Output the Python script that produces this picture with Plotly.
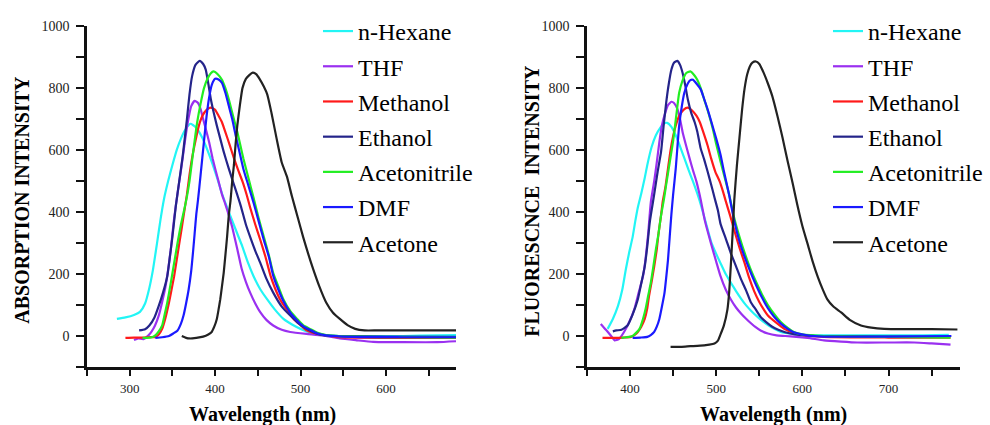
import plotly.graph_objects as go

# ---------------- DATA ----------------
solvents = ["n-Hexane", "THF", "Methanol", "Ethanol", "Acetonitrile", "DMF", "Acetone"]
colors = ["#22f5f5", "#9a30f0", "#ff1a1a", "#24248a", "#22ee22", "#1a1aff", "#222222"]

x_ticks_abs = [300, 400, 500, 600]
x_ticks_flu = [400, 500, 600, 700]
y_ticks = [0, 200, 400, 600, 800, 1000]

# Absorption panel (wavelength nm, intensity)
abs_hexane_nm = [285, 295, 305, 312, 318, 323, 327, 332, 336, 340, 345, 350, 355, 360, 365, 371, 377, 385, 391, 397, 403, 408, 414, 420, 426, 432, 438, 445, 453, 461, 470, 480, 490, 500, 513, 526, 546, 580, 620, 660, 682]
abs_hexane_int = [55, 60, 68, 78, 105, 155, 210, 300, 375, 440, 500, 552, 600, 637, 665, 685, 675, 640, 600, 555, 505, 460, 415, 372, 330, 288, 240, 193, 150, 118, 85, 55, 37, 23, 10, 4, 0, 0, 0, 2, 3]

abs_thf_nm = [305, 310, 316, 322, 328, 334, 338, 342, 345, 348, 352, 356, 360, 363, 366, 369, 372, 376, 380, 383, 386, 389, 393, 397, 401, 404, 408, 412, 416, 420, 426, 431, 436, 441, 447, 453, 460, 468, 478, 488, 507, 526, 546, 566, 585, 620, 660, 682]
abs_thf_int = [-13, -8, -10, 2, 25, 66, 110, 161, 215, 277, 380, 460, 535, 595, 655, 705, 742, 759, 752, 732, 700, 669, 625, 574, 530, 499, 457, 425, 390, 351, 280, 218, 175, 140, 105, 76, 52, 34, 20, 13, 7, 2, -8, -14, -19, -20, -20, -17]

abs_methanol_nm = [295, 305, 315, 322, 330, 334, 338, 342, 346, 349, 352, 355, 358, 361, 364, 367, 370, 373, 377, 381, 385, 390, 395, 400, 404, 408, 412, 417, 422, 427, 432, 437, 441, 447, 453, 459, 465, 470, 476, 484, 492, 500, 507, 515, 526, 546, 600, 682]
abs_methanol_int = [-6, -5, -5, -4, -3, 5, 23, 60, 108, 150, 193, 245, 298, 350, 404, 457, 520, 574, 630, 679, 710, 730, 737, 730, 711, 690, 658, 617, 574, 535, 499, 455, 415, 360, 309, 255, 193, 155, 118, 85, 55, 35, 18, 10, 4, -4, -6, -6]

abs_ethanol_nm = [311, 318, 323, 329, 334, 339, 344, 347, 350, 354, 358, 362, 367, 370, 373, 377, 382, 386, 389, 392, 395, 398, 402, 406, 410, 416, 422, 430, 436, 441, 447, 453, 460, 468, 478, 488, 498, 507, 517, 526, 545, 600, 682]
abs_ethanol_int = [18, 22, 34, 60, 97, 140, 193, 255, 320, 420, 500, 580, 700, 780, 838, 875, 888, 878, 860, 815, 764, 725, 679, 637, 595, 540, 489, 420, 360, 320, 275, 235, 185, 140, 95, 66, 40, 23, 10, 3, 0, -2, -3]

abs_acetonitrile_nm = [315, 320, 326, 330, 334, 338, 341, 344, 348, 352, 356, 360, 364, 367, 370, 373, 376, 379, 383, 387, 391, 395, 398, 403, 408, 412, 416, 421, 426, 430, 433, 439, 445, 451, 457, 463, 468, 474, 480, 488, 496, 503, 511, 520, 530, 560, 620, 682]
abs_acetonitrile_int = [-6, -6, -4, 2, 15, 34, 70, 108, 170, 235, 300, 360, 410, 450, 500, 565, 630, 690, 750, 800, 830, 848, 854, 845, 827, 800, 764, 710, 658, 610, 574, 510, 446, 380, 320, 260, 203, 160, 118, 80, 55, 35, 23, 10, 3, -2, -4, -5]

abs_dmf_nm = [330, 338, 346, 351, 356, 360, 363, 366, 369, 372, 374, 376, 378, 380, 383, 387, 390, 393, 396, 400, 404, 408, 412, 416, 420, 424, 428, 433, 439, 445, 451, 457, 463, 468, 474, 480, 488, 496, 503, 511, 520, 530, 560, 620, 682]
abs_dmf_int = [-6, -4, 0, 8, 18, 40, 66, 105, 150, 210, 267, 330, 394, 440, 520, 630, 710, 770, 810, 830, 828, 817, 785, 743, 700, 648, 600, 540, 485, 430, 370, 310, 255, 195, 150, 112, 75, 50, 32, 20, 8, 2, -3, -4, -4]

abs_acetone_nm = [361, 366, 370, 378, 386, 392, 396, 399, 402, 404, 406, 408, 410, 412, 414, 416, 418, 420, 422, 424, 426, 429, 432, 436, 440, 444, 448, 452, 457, 461, 466, 472, 478, 484, 490, 497, 503, 509, 515, 522, 530, 538, 546, 555, 564, 575, 590, 620, 660, 682]
abs_acetone_int = [0, -6, -8, -6, -2, 5, 13, 30, 55, 85, 118, 160, 203, 260, 320, 390, 436, 500, 552, 620, 680, 745, 800, 830, 842, 850, 845, 830, 805, 780, 720, 637, 560, 515, 450, 380, 320, 265, 214, 160, 108, 75, 55, 35, 23, 18, 18, 18, 18, 18]

# Fluorescence panel (wavelength nm, intensity)
flu_hexane_nm = [374, 380, 386, 391, 395, 399, 403, 406, 409, 413, 417, 420, 425, 430, 435, 439, 443, 448, 453, 458, 463, 468, 473, 478, 482, 488, 494, 500, 505, 511, 517, 523, 529, 535, 541, 547, 552, 560, 575, 590, 606, 640, 700, 740, 770]
flu_hexane_int = [23, 55, 97, 150, 214, 270, 320, 370, 415, 460, 510, 552, 610, 648, 672, 685, 688, 675, 648, 612, 574, 535, 499, 460, 425, 365, 305, 265, 235, 200, 172, 145, 120, 98, 80, 64, 52, 35, 13, 6, 2, 2, 2, 2, 4]

flu_thf_nm = [366, 372, 378, 382, 387, 393, 399, 405, 410, 415, 418, 421, 424, 428, 431, 434, 437, 441, 444, 448, 451, 455, 458, 461, 465, 469, 473, 477, 482, 487, 494, 500, 505, 511, 517, 523, 529, 535, 540, 545, 552, 560, 570, 580, 593, 606, 625, 645, 664, 700, 730, 750, 768, 772]
flu_thf_int = [39, 20, 0, -14, -10, 13, 45, 87, 140, 193, 250, 330, 430, 500, 560, 626, 680, 722, 745, 756, 752, 732, 700, 658, 615, 574, 535, 499, 440, 370, 298, 240, 193, 150, 118, 92, 72, 55, 42, 30, 17, 8, 2, 0, -3, -6, -14, -18, -21, -21, -21, -24, -27, -28]

flu_methanol_nm = [368, 380, 392, 401, 405, 409, 413, 417, 420, 422, 425, 428, 431, 433, 436, 438, 441, 444, 447, 450, 453, 457, 462, 467, 472, 477, 481, 485, 490, 494, 499, 504, 508, 511, 516, 521, 527, 533, 538, 544, 550, 556, 560, 570, 579, 590, 598, 625, 700, 772]
flu_methanol_int = [-6, -6, -5, -3, 3, 13, 30, 55, 90, 129, 175, 224, 280, 330, 390, 436, 480, 540, 600, 645, 679, 710, 730, 737, 728, 711, 690, 658, 615, 574, 530, 499, 465, 436, 390, 341, 285, 235, 190, 145, 110, 82, 66, 42, 23, 10, 4, -3, -5, -5]

flu_ethanol_nm = [380, 384, 390, 397, 403, 409, 413, 417, 420, 423, 428, 432, 436, 439, 442, 445, 448, 451, 455, 458, 461, 464, 467, 471, 475, 478, 482, 486, 490, 494, 498, 502, 505, 511, 517, 523, 529, 535, 540, 546, 552, 558, 565, 572, 580, 590, 600, 615, 630, 700, 770]
flu_ethanol_int = [15, 18, 20, 34, 70, 118, 170, 224, 290, 370, 457, 530, 595, 680, 755, 815, 860, 882, 888, 875, 849, 810, 764, 720, 690, 660, 605, 570, 531, 490, 447, 405, 362, 315, 267, 225, 182, 145, 110, 85, 60, 45, 30, 20, 12, 6, 3, 0, 0, -2, -3]

flu_acetonitrile_nm = [390, 396, 403, 407, 411, 415, 418, 421, 424, 427, 430, 433, 436, 439, 442, 446, 450, 454, 457, 461, 465, 470, 475, 478, 482, 486, 491, 496, 500, 505, 510, 515, 521, 527, 533, 540, 547, 553, 560, 567, 575, 583, 590, 600, 625, 700, 772]
flu_acetonitrile_int = [-6, -4, 0, 10, 23, 55, 87, 130, 171, 224, 280, 330, 390, 436, 490, 560, 630, 720, 785, 825, 848, 854, 840, 827, 800, 764, 720, 669, 620, 563, 510, 457, 380, 320, 268, 215, 170, 135, 100, 72, 45, 26, 13, 5, 0, -3, -5]

flu_dmf_nm = [403, 412, 420, 424, 428, 431, 434, 437, 440, 442, 444, 446, 448, 450, 453, 457, 460, 463, 467, 470, 473, 477, 482, 486, 490, 495, 500, 505, 509, 515, 521, 527, 533, 540, 547, 553, 560, 567, 575, 583, 590, 606, 625, 700, 773]
flu_dmf_int = [-6, -5, -3, 3, 13, 30, 55, 95, 140, 190, 245, 320, 394, 457, 540, 679, 740, 785, 815, 826, 827, 815, 796, 765, 732, 685, 637, 585, 531, 455, 370, 305, 255, 205, 160, 125, 90, 63, 40, 23, 12, 2, -2, -2, 0]

flu_acetone_nm = [447, 460, 470, 478, 486, 492, 498, 502, 505, 509, 513, 515, 517, 519, 521, 524, 527, 530, 533, 536, 539, 542, 546, 550, 555, 560, 565, 571, 577, 583, 589, 594, 600, 606, 612, 618, 624, 629, 636, 645, 655, 668, 680, 695, 720, 750, 780]
flu_acetone_int = [-35, -35, -33, -32, -30, -28, -24, -15, 5, 35, 85, 140, 230, 330, 440, 550, 640, 730, 800, 845, 870, 882, 886, 878, 850, 815, 775, 711, 640, 563, 490, 425, 355, 298, 240, 190, 148, 118, 95, 76, 52, 34, 27, 23, 22, 22, 21]

abs_series = [
    (abs_hexane_nm, abs_hexane_int), (abs_thf_nm, abs_thf_int),
    (abs_methanol_nm, abs_methanol_int), (abs_ethanol_nm, abs_ethanol_int),
    (abs_acetonitrile_nm, abs_acetonitrile_int), (abs_dmf_nm, abs_dmf_int),
    (abs_acetone_nm, abs_acetone_int),
]
flu_series = [
    (flu_hexane_nm, flu_hexane_int), (flu_thf_nm, flu_thf_int),
    (flu_methanol_nm, flu_methanol_int), (flu_ethanol_nm, flu_ethanol_int),
    (flu_acetonitrile_nm, flu_acetonitrile_int), (flu_dmf_nm, flu_dmf_int),
    (flu_acetone_nm, flu_acetone_int),
]

# ---------------- FIGURE ----------------
W, H = 990, 425
SERIF = '"Liberation Serif", "Times New Roman", Times, serif'
fig = go.Figure()

for i, (name, col, (xs, ys)) in enumerate(zip(solvents, colors, abs_series)):
    fig.add_trace(go.Scatter(x=xs, y=ys, mode="lines", name=name,
                             line=dict(color=col, width=2.2, shape="spline", smoothing=0.5),
                             xaxis="x", yaxis="y", legend="legend",
                             legendgroup=f"a{i}"))
for i, (name, col, (xs, ys)) in enumerate(zip(solvents, colors, flu_series)):
    fig.add_trace(go.Scatter(x=xs, y=ys, mode="lines", name=name,
                             line=dict(color=col, width=2.2, shape="spline", smoothing=0.5),
                             xaxis="x2", yaxis="y2", legend="legend2",
                             legendgroup=f"f{i}"))

xtickfont = dict(family=SERIF, size=13, color="#222")
ytickfont = dict(family=SERIF, size=14, color="#222")

def xax(domain, rng, vals, anchor):
    return dict(domain=domain, range=rng, anchor=anchor, tickvals=vals,
                showline=True, linewidth=2.5, linecolor="#111",
                ticks="outside", ticklen=6, tickwidth=2, tickcolor="#111",
                minor=dict(dtick=50, tick0=0, ticks="outside", ticklen=6,
                           tickwidth=2, tickcolor="#111", showgrid=False),
                showgrid=False, zeroline=False, tickfont=xtickfont,
                ticklabelstandoff=2, fixedrange=True)

def yax(domain, anchor):
    return dict(domain=domain, range=[-100, 1000], anchor=anchor, tickvals=y_ticks,
                showline=True, linewidth=2.5, linecolor="#111",
                ticks="outside", ticklen=8, tickwidth=2, tickcolor="#111",
                minor=dict(dtick=100, tick0=0, ticks="outside", ticklen=8,
                           tickwidth=2, tickcolor="#111", showgrid=False),
                showgrid=False, zeroline=False, tickfont=ytickfont,
                ticklabelstandoff=4, fixedrange=True)

ydom = [1 - 366 / H, 1 - 19.5 / H]
legend_font = dict(family=SERIF, size=24, color="black")
fig.update_layout(
    width=W, height=H, autosize=False,
    margin=dict(l=0, r=0, t=0, b=0),
    paper_bgcolor="white", plot_bgcolor="white",
    xaxis=xax([87 / W, 456 / W], [250, 682], x_ticks_abs, "y"),
    yaxis=yax(ydom, "x"),
    xaxis2=xax([587 / W, 960 / W], [350, 783], x_ticks_flu, "y2"),
    yaxis2=yax(ydom, "x2"),
    legend=dict(x=318 / W, y=1 - 2 / H, xanchor="left", yanchor="top",
                font=legend_font, bgcolor="rgba(0,0,0,0)",
                traceorder="grouped", tracegroupgap=1),
    legend2=dict(x=828 / W, y=1 - 2 / H, xanchor="left", yanchor="top",
                 font=legend_font, bgcolor="rgba(0,0,0,0)",
                 traceorder="grouped", tracegroupgap=1),
    showlegend=True,
)

title_font = dict(family=SERIF, size=20, color="black", weight="bold")
xt_font = dict(family=SERIF, size=20, color="black", weight="bold")
fig.add_annotation(text="ABSORPTION INTENSITY", x=22 / W, y=1 - 196 / H,
                   xref="paper", yref="paper", textangle=-90, showarrow=False,
                   font=title_font, xanchor="center", yanchor="middle")
fig.add_annotation(text="FLUORESCNCE\u00a0\u00a0INTENSITY", x=532 / W, y=1 - 197 / H,
                   xref="paper", yref="paper", textangle=-90, showarrow=False,
                   font=title_font, xanchor="center", yanchor="middle")
fig.add_annotation(text="Wavelength (nm)", x=262 / W, y=1 - 414 / H,
                   xref="paper", yref="paper", showarrow=False,
                   font=xt_font, xanchor="center", yanchor="middle")
fig.add_annotation(text="Wavelength (nm)", x=773 / W, y=1 - 414 / H,
                   xref="paper", yref="paper", showarrow=False,
                   font=xt_font, xanchor="center", yanchor="middle")

fig.write_html("out.html")
